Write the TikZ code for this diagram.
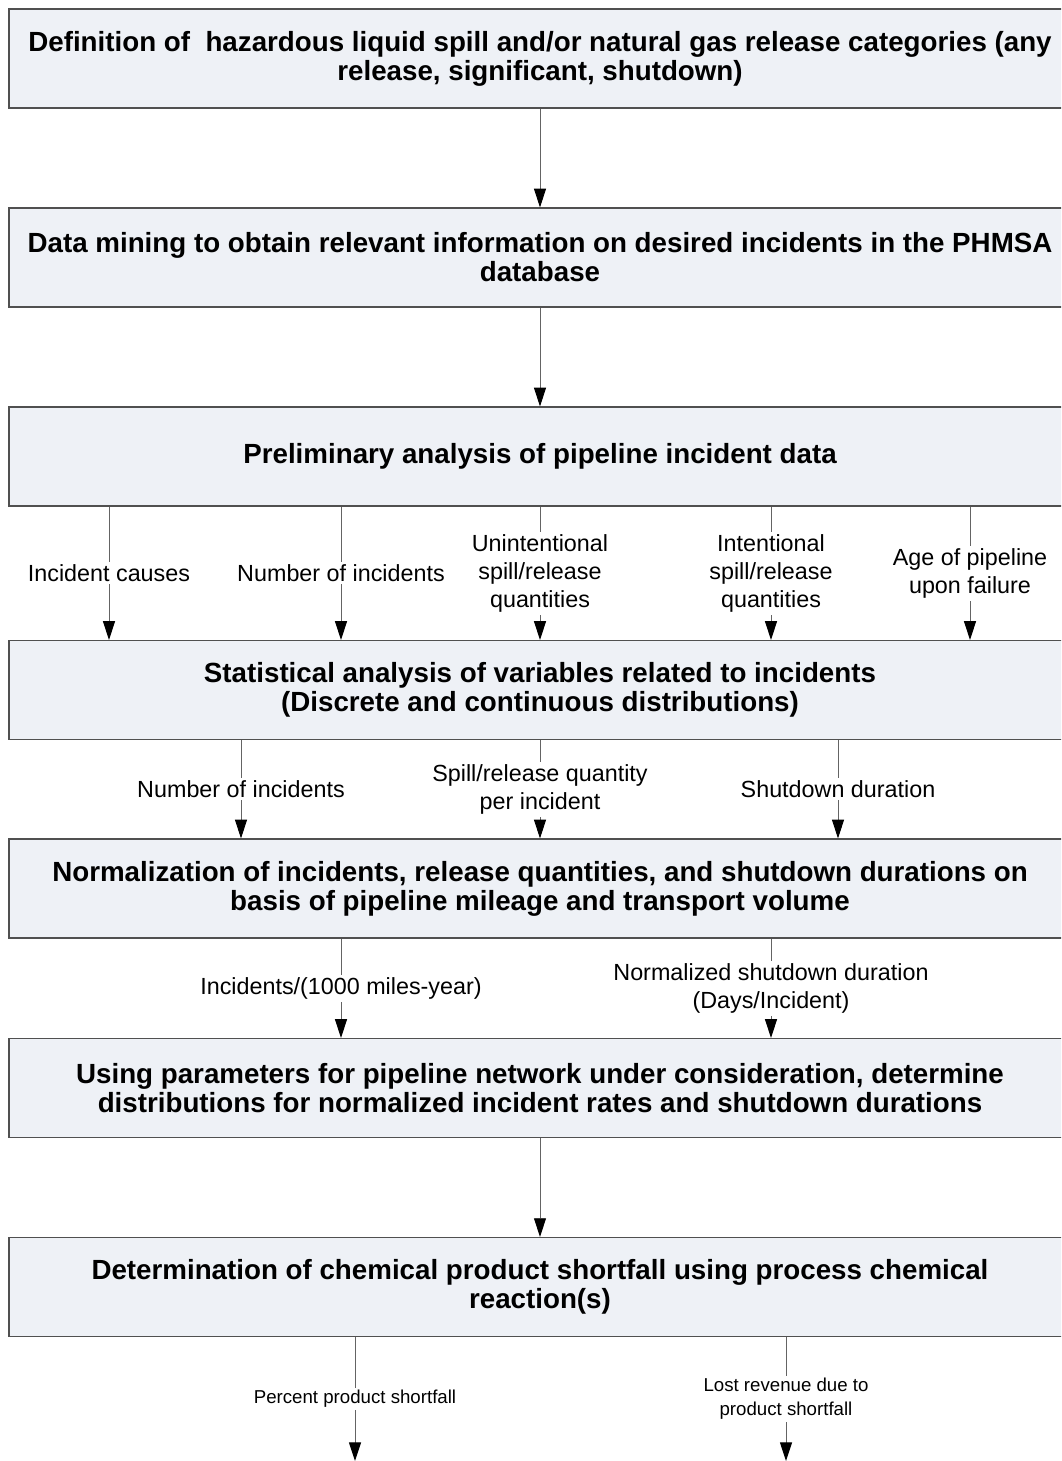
\documentclass[tikz,border=0pt]{standalone}
\usepackage{fontspec}
\setmainfont{Liberation Sans}
\usetikzlibrary{arrows.meta}
\definecolor{boxfill}{RGB}{238,241,246}
\definecolor{boxline}{RGB}{80,80,80}
\definecolor{wire}{RGB}{100,100,100}
\begin{document}
\begin{tikzpicture}[x=0.75pt,y=-0.75pt,
  stagebox/.style={draw=boxline,line width=0.9pt,fill=boxfill,
    minimum width=796.5pt,minimum height=74.25pt,inner sep=0pt,
    align=center,font=\fontsize{20.8}{21.8}\selectfont\bfseries},
  flowarrow/.style={draw=wire,line width=0.7pt,
    -{Triangle[length=14pt,width=9pt,color=black]}},
  flowlabel/.style={fill=white,inner sep=2pt,align=center,
    font=\fontsize{17.5}{21}\selectfont},
  smalllabel/.style={fill=white,inner sep=2pt,align=center,
    font=\fontsize{14}{18}\selectfont}]
\useasboundingbox (0,0) rectangle (1061,1461);
\clip (0,0) rectangle (1061,1461);

% process stages
\node[stagebox] (b1) at (540,58.5) {Definition of\ \ hazardous liquid spill and/or natural gas release categories (any\\release, significant, shutdown)};
\node[stagebox] (b2) at (540,257.5) {Data mining to obtain relevant information on desired incidents in the PHMSA\\database};
\node[stagebox] (b3) at (540,456.5) {Preliminary analysis of pipeline incident data};
\node[stagebox] (b4) at (540,690) {Statistical analysis of variables related to incidents\\(Discrete and continuous distributions)};
\node[stagebox] (b5) at (540,888.5) {Normalization of incidents, release quantities, and shutdown durations on\\basis of pipeline mileage and transport volume};
\node[stagebox] (b6) at (540,1088) {Using parameters for pipeline network under consideration, determine\\distributions for normalized incident rates and shutdown durations};
\node[stagebox] (b7) at (540,1287) {Determination of chemical product shortfall using process chemical\\reaction(s)};

% free ends of the outputs
\coordinate (e1) at (355,1461);
\coordinate (e2) at (786,1461);

% single links
\draw[flowarrow] (b1) -- (b2);
\draw[flowarrow] (b2) -- (b3);
\draw[flowarrow] (b6) -- (b7);

% preliminary analysis -> statistical analysis
\draw[flowarrow] (b3.south -| 109,0) -- node[flowlabel] {Incident causes} (b4.north -| 109,0);
\draw[flowarrow] (b3.south -| 341,0) -- node[flowlabel] {Number of incidents} (b4.north -| 341,0);
\draw[flowarrow] (b3.south -| 540,0) -- node[flowlabel] {Unintentional\\spill/release\\quantities} (b4.north -| 540,0);
\draw[flowarrow] (b3.south -| 771,0) -- node[flowlabel] {Intentional\\spill/release\\quantities} (b4.north -| 771,0);
\draw[flowarrow] (b3.south -| 970,0) -- node[flowlabel] {Age of pipeline\\upon failure} (b4.north -| 970,0);

% statistical analysis -> normalization
\draw[flowarrow] (b4.south -| 241,0) -- node[flowlabel] {Number of incidents} (b5.north -| 241,0);
\draw[flowarrow] (b4.south -| 540,0) -- node[flowlabel] {Spill/release quantity\\per incident} (b5.north -| 540,0);
\draw[flowarrow] (b4.south -| 838,0) -- node[flowlabel] {Shutdown duration} (b5.north -| 838,0);

% normalization -> distributions
\draw[flowarrow] (b5.south -| 341,0) -- node[flowlabel] {Incidents/(1000 miles-year)} (b6.north -| 341,0);
\draw[flowarrow] (b5.south -| 771,0) -- node[flowlabel] {Normalized shutdown duration\\(Days/Incident)} (b6.north -| 771,0);

% outputs
\draw[flowarrow] (b7.south -| e1) -- node[smalllabel] {Percent product shortfall} (e1);
\draw[flowarrow] (b7.south -| e2) -- node[smalllabel] {Lost revenue due to\\product shortfall} (e2);
\end{tikzpicture}
\end{document}
